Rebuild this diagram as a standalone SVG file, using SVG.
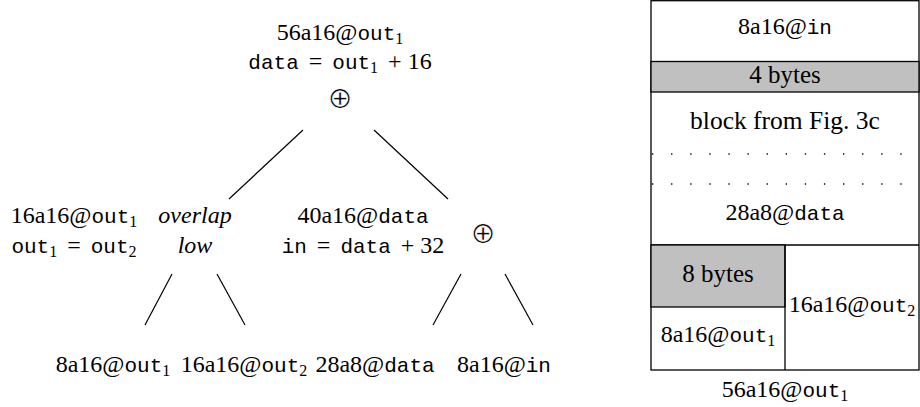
<svg xmlns="http://www.w3.org/2000/svg" width="920" height="407" viewBox="0 0 920 407">
<style>
text{font-family:'Liberation Serif','DejaVu Serif',serif;font-size:24px;fill:#000;text-anchor:middle}
.tt{font-family:'Liberation Mono','DejaVu Sans Mono',monospace;font-size:21px}
.sub{font-family:'Liberation Serif','DejaVu Serif',serif;font-size:16px}
.it{font-style:italic}
.op{font-family:'DejaVu Sans',sans-serif;font-size:30px;fill:#000;stroke:#fff;stroke-width:0.7}
.edge{stroke:#000;stroke-width:1.2;fill:none}
.cell{stroke:#000;stroke-width:1.3;fill:#fff}
.gray{stroke:#000;stroke-width:1.3;fill:#c0c0c0}
.dots{stroke:#000;stroke-width:1.3;stroke-dasharray:1.3 17.8;fill:none}
</style>

<g id="connectors">
<line class="edge" x1="303" y1="130" x2="229" y2="199"/>
<line class="edge" x1="374" y1="130" x2="448" y2="199"/>
<line class="edge" x1="172" y1="274" x2="145" y2="325"/>
<line class="edge" x1="217" y1="274" x2="245" y2="325"/>
<line class="edge" x1="461" y1="274" x2="433" y2="325"/>
<line class="edge" x1="505" y1="274" x2="533" y2="325"/>
</g>

<g id="root">
<text x="340" y="40">56a16@<tspan class="tt">out</tspan><tspan class="sub" dy="4">1</tspan></text>
<text x="340" y="69"><tspan class="tt">data</tspan><tspan dx="4"> = </tspan><tspan class="tt" dx="4">out</tspan><tspan class="sub" dy="4">1</tspan><tspan dy="-4" dx="4"> + 16</tspan></text>
<text class="op" x="340" y="108">⊕</text>
</g>

<g id="left">
<text x="74" y="223">16a16@<tspan class="tt">out</tspan><tspan class="sub" dy="4">1</tspan></text>
<text x="74" y="253"><tspan class="tt">out</tspan><tspan class="sub" dy="4">1</tspan><tspan dy="-4" dx="4"> = </tspan><tspan class="tt" dx="4">out</tspan><tspan class="sub" dy="4">2</tspan></text>
<text class="it" x="195" y="223">overlap</text>
<text class="it" x="195" y="253">low</text>
</g>

<g id="right">
<text x="363" y="223">40a16@<tspan class="tt">data</tspan></text>
<text x="363" y="253"><tspan class="tt">in</tspan><tspan dx="4"> = </tspan><tspan class="tt" dx="4">data</tspan><tspan dx="4"> + 32</tspan></text>
<text class="op" x="483" y="243">⊕</text>
</g>

<g id="leaf1"><text x="113" y="372">8a16@<tspan class="tt">out</tspan><tspan class="sub" dy="4">1</tspan></text></g>
<g id="leaf2"><text x="244" y="372">16a16@<tspan class="tt">out</tspan><tspan class="sub" dy="4">2</tspan></text></g>
<g id="leaf3"><text x="375" y="372">28a8@<tspan class="tt">data</tspan></text></g>
<g id="leaf4"><text x="504" y="372">8a16@<tspan class="tt">in</tspan></text></g>

<g id="layout">
<rect class="cell" x="651" y="0.7" width="268" height="369.3"/>
<rect class="gray" x="651" y="61.5" width="268" height="30.5"/>
<line class="dots" x1="652" y1="154" x2="919" y2="154"/>
<line class="dots" x1="652" y1="184" x2="919" y2="184"/>
<line class="edge" x1="651" y1="245" x2="919" y2="245" style="stroke-width:1.3"/>
<rect class="gray" x="651" y="245" width="134" height="62"/>
<line class="edge" x1="785" y1="245" x2="785" y2="370" style="stroke-width:1.3"/>
<text x="785" y="34">8a16@<tspan class="tt">in</tspan></text>
<text x="785" y="83" style="font-size:25px">4 bytes</text>
<text x="785" y="129" style="font-size:25.5px">block from Fig. 3c</text>
<text x="785" y="220">28a8@<tspan class="tt">data</tspan></text>
<text x="718" y="282" style="font-size:25px">8 bytes</text>
<text x="718" y="342">8a16@<tspan class="tt">out</tspan><tspan class="sub" dy="4">1</tspan></text>
<text x="852" y="312">16a16@<tspan class="tt">out</tspan><tspan class="sub" dy="4">2</tspan></text>
<text x="785" y="397">56a16@<tspan class="tt">out</tspan><tspan class="sub" dy="4">1</tspan></text>
</g>
</svg>
